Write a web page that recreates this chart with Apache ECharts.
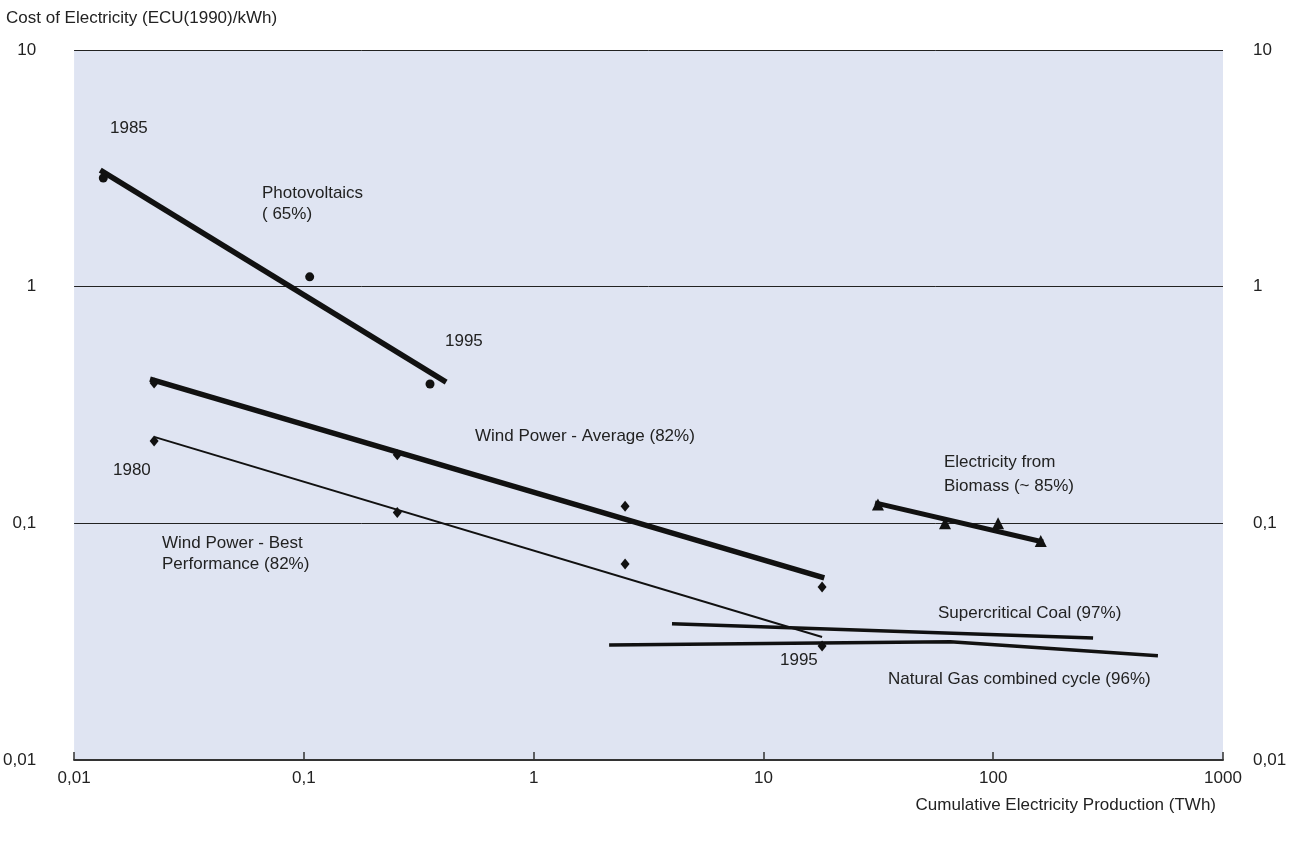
<!DOCTYPE html>
<html lang="en">
<head>
    <meta charset="UTF-8">
    <title>Experience curves</title>
    <style>
        body { margin: 0; background: #fff; }
    </style>
</head>
<body>
<div id="main" style="width: 1299px;height:846px;"></div>

<script src="https://cdn.jsdelivr.net/npm/echarts@6/dist/echarts.min.js"></script>
<script>
    // measured points (TWh, ECU/kWh)
    var pvPoints = [[0.0134, 2.88], [0.106, 1.10], [0.354, 0.388]];
    var pvFit = [[0.0130, 3.11], [0.416, 0.395]];

    var windAvgPoints = [[0.0223, 0.392], [0.255, 0.195], [2.50, 0.118], [18.0, 0.0538]];
    var windAvgFit = [[0.0214, 0.407], [18.4, 0.0588]];

    var windBestPoints = [[0.0223, 0.223], [0.255, 0.111], [2.50, 0.0673], [18.0, 0.0303]];
    var windBestFit = [[0.0223, 0.232], [18.0, 0.0331]];

    var biomassPoints = [[31.5, 0.120], [61.7, 0.100], [105, 0.100], [161, 0.0843]];
    var biomassFit = [[30.6, 0.122], [164.8, 0.0834]];

    var coalFit = [[4.0, 0.0376], [272, 0.0328]];
    var gasFit = [[2.13, 0.0306], [65, 0.0316], [521, 0.0276]];

    var xTicks = { 0.01: '0,01', 0.1: '0,1', 1: '1', 10: '10', 100: '100', 1000: '1000' };
    var yTicks = { 0.01: '0,01', 0.1: '0,1', 1: '1', 10: '10' };

    var font = '"Liberation Sans", Arial, sans-serif';
    var ink = '#111';

    function tickName(map) {
        return function (v) {
            var key = Number(Number(v).toPrecision(6));
            return map[key] !== undefined ? map[key] : '';
        };
    }

    function fitLine(name, data, width) {
        return {
            name: name,
            type: 'line',
            data: data,
            symbol: 'none',
            silent: true,
            lineStyle: { color: ink, width: width, cap: 'butt' },
            z: 3
        };
    }

    function dots(name, data, symbol, size) {
        return {
            name: name,
            type: 'scatter',
            data: data,
            symbol: symbol,
            symbolSize: size,
            itemStyle: { color: ink, opacity: 1 },
            z: 4
        };
    }

    // x,y = left (or right) edge and vertical centre of the text
    function note(text, x, y, align) {
        return {
            type: 'text',
            x: x,
            y: y,
            style: {
                text: text,
                font: '17px ' + font,
                fill: '#222',
                textAlign: align || 'left',
                textVerticalAlign: 'middle'
            }
        };
    }

    var chart = echarts.init(document.getElementById('main'));
    chart.setOption({
        backgroundColor: '#fff',
        animation: false,
        grid: {
            left: 74,
            right: 76,
            top: 50,
            bottom: 86,
            show: true,
            backgroundColor: '#dfe4f2',
            borderWidth: 0
        },
        xAxis: {
            type: 'log',
            logBase: 10,
            min: 0.01,
            max: 1000,
            axisLine: { show: true, lineStyle: { color: '#333', width: 2 } },
            axisTick: { show: true, inside: true, length: 8, lineStyle: { color: '#333', width: 1.5 } },
            minorTick: { show: false },
            splitLine: { show: false },
            axisLabel: {
                margin: 10,
                color: '#222',
                fontSize: 17,
                fontFamily: font,
                formatter: tickName(xTicks)
            }
        },
        yAxis: [
            {
                type: 'log',
                logBase: 10,
                min: 0.01,
                max: 10,
                position: 'left',
                axisLine: { show: false },
                axisTick: { show: false },
                splitLine: { show: true, lineStyle: { color: '#222', width: 1 } },
                axisLabel: {
                    margin: 38,
                    color: '#222',
                    fontSize: 17,
                    fontFamily: font,
                    formatter: tickName(yTicks)
                }
            },
            {
                type: 'log',
                logBase: 10,
                min: 0.01,
                max: 10,
                position: 'right',
                axisLine: { show: false },
                axisTick: { show: false },
                splitLine: { show: false },
                axisLabel: {
                    margin: 30,
                    color: '#222',
                    fontSize: 17,
                    fontFamily: font,
                    formatter: tickName(yTicks)
                }
            }
        ],
        series: [
            fitLine('Photovoltaics', pvFit, 5.5),
            dots('Photovoltaics data', pvPoints, 'circle', 9),
            fitLine('Wind Power - Average', windAvgFit, 5.5),
            dots('Wind Power - Average data', windAvgPoints, 'diamond', [9, 11]),
            fitLine('Wind Power - Best Performance', windBestFit, 2),
            dots('Wind Power - Best data', windBestPoints, 'diamond', [9, 11]),
            fitLine('Electricity from Biomass', biomassFit, 5),
            dots('Biomass data', biomassPoints, 'triangle', 12),
            fitLine('Supercritical Coal', coalFit, 3.5),
            fitLine('Natural Gas combined cycle', gasFit, 3.5)
        ],
        graphic: [
            note('Cost of Electricity (ECU(1990)/kWh)', 6, 18),
            note('Cumulative Electricity Production (TWh)', 1216, 805, 'right'),
            note('1985', 110, 128),
            note('Photovoltaics', 262, 193),
            note('( 65%)', 262, 214),
            note('1995', 445, 341),
            note('Wind Power - Average (82%)', 475, 436),
            note('1980', 113, 470),
            note('Wind Power - Best', 162, 543),
            note('Performance (82%)', 162, 564),
            note('Electricity from', 944, 462),
            note('Biomass (~ 85%)', 944, 486),
            note('Supercritical Coal (97%)', 938, 613),
            note('1995', 780, 660),
            note('Natural Gas combined cycle (96%)', 888, 679)
        ]
    });
</script>
</body>
</html>
